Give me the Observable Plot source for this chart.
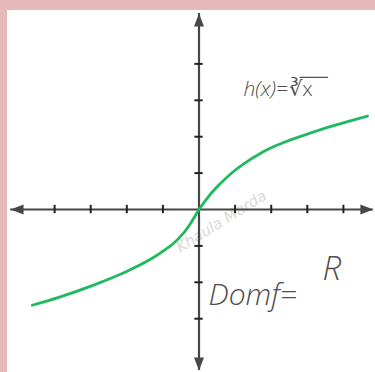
<!DOCTYPE html>
<html>
<head>
<meta charset="utf-8">
<script src="https://cdn.jsdelivr.net/npm/d3@7"></script>
<script src="https://cdn.jsdelivr.net/npm/@observablehq/plot@0.6"></script>
<style>
  html, body { margin: 0; padding: 0; }
  body { width: 375px; height: 372px; background: #e7b8b8; overflow: hidden; position: relative; }
  #chart { position: absolute; left: 7px; top: 10px; width: 368px; height: 362px; background: #ffffff; }
  #chart svg { display: block; }
</style>
</head>
<body>
<div id="chart"></div>
<script>
// Curve points (x, y in tick units)
const curveX = [-4.62, -3.884, -2.958, -2.036, -1.296, -0.928, -0.734, -0.429, -0.235, 0, 0.263, 0.457, 0.679, 0.956, 1.288, 1.648, 2.0, 2.4, 3.0, 3.726, 4.668];
const curveY = [-2.63, -2.415, -2.09, -1.715, -1.34, -1.098, -0.955, -0.65, -0.385, 0, 0.357, 0.577, 0.797, 1.044, 1.29, 1.513, 1.696, 1.86, 2.07, 2.302, 2.566];

// Axis ticks
const xTicks = [-4, -3, -2, -1, 1, 2, 3, 4];
const yTicks = [4, 3, 2, 1, -1, -2, -3];

// Axis extents (arrow tips)
const xAxisEnds = [-5.22, 4.83];
const yAxisEnds = [-4.42, 5.385];

// Annotations (italic and upright)
const italicLabels = ["h(x)=", "Domf=", "R"];
const italicX = [1.233, 0.263, 3.42];
const italicY = [3.13, -2.637, -1.95];
const italicSize = [21, 30, 33];
const rootLabel = ["∛x"];
const rootX = [2.5];
const rootY = [3.13];
const radicalBar = {x1: 2.8, x2: 3.59, y: 3.63};
const watermark = ["Khaula Marda"];

const curve = curveX.map((x, i) => ({x, y: curveY[i]}));
const arrows = [
  {x: xAxisEnds[0], y: 0, r: -90},
  {x: xAxisEnds[1], y: 0, r: 90},
  {x: 0, y: yAxisEnds[0], r: 180},
  {x: 0, y: yAxisEnds[1], r: 0}
];
const italicAnnot = italicLabels.map((t, i) => ({t, x: italicX[i], y: italicY[i], s: italicSize[i]}));
const rootAnnot = rootLabel.map((t, i) => ({t, x: rootX[i], y: rootY[i]}));

const head = {
  draw(context, l) {
    const w = 5;
    context.moveTo(0, -l);
    context.lineTo(-w, 0);
    context.lineTo(w, 0);
    context.closePath();
  }
};

const axisColor = "#474747";
const tickHalf = 0.115;
const textColor = "#4d4d4d";

const chart = Plot.plot({
  width: 368,
  height: 362,
  margin: 0,
  x: {domain: [-5.305, 4.889], axis: null},
  y: {domain: [-4.478, 5.467], axis: null},
  style: {background: "#ffffff", overflow: "visible"},
  marks: [
    Plot.text(watermark, {x: 0.62, y: -0.33, text: d => d, rotate: -32, fontSize: 15, fill: "#dadada", fontFamily: "DejaVu Sans", fontStyle: "italic"}),
    Plot.ruleY([0], {x1: xAxisEnds[0], x2: xAxisEnds[1], stroke: axisColor, strokeWidth: 2.2}),
    Plot.ruleX([0], {y1: yAxisEnds[0], y2: yAxisEnds[1], stroke: axisColor, strokeWidth: 2.2}),
    Plot.ruleX(xTicks, {x: d => d, y1: -tickHalf, y2: tickHalf, stroke: "#222", strokeWidth: 2}),
    Plot.ruleY(yTicks, {y: d => d, x1: -tickHalf, x2: tickHalf, stroke: "#222", strokeWidth: 2}),
    Plot.vector(arrows, {x: "x", y: "y", rotate: "r", length: 13, anchor: "end", shape: head, fill: axisColor, stroke: "none"}),
    Plot.line(curve, {x: "x", y: "y", curve: "catmull-rom", stroke: "#20b95f", strokeWidth: 2.8}),
    Plot.text(italicAnnot, {x: "x", y: "y", text: "t", fontSize: "s", textAnchor: "start", lineAnchor: "bottom", fill: textColor, fontFamily: "Open Sans", fontStyle: "italic", fontWeight: 300}),
    Plot.text(rootAnnot, {x: "x", y: "y", text: "t", fontSize: 21, textAnchor: "start", lineAnchor: "bottom", fill: textColor, fontFamily: "Open Sans", fontWeight: 300}),
    Plot.ruleY([radicalBar], {y: "y", x1: "x1", x2: "x2", stroke: textColor, strokeWidth: 1.2})
  ]
});
document.getElementById("chart").appendChild(chart);
</script>
</body>
</html>
